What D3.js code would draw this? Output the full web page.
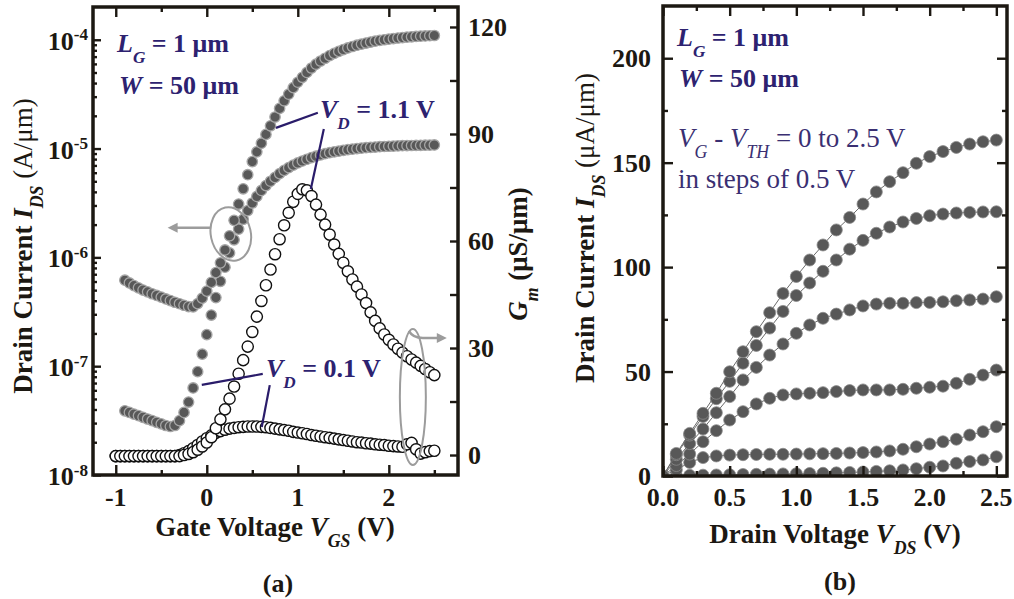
<!DOCTYPE html>
<html>
<head>
<meta charset="utf-8">
<script src="https://cdn.jsdelivr.net/npm/d3@7"></script>
<style>
  html, body { margin: 0; padding: 0; background: #fff; }
  svg { display: block; }
</style>
</head>
<body>
<svg id="chart" width="1014" height="599"></svg>
<script>
// ---------------- (a) transfer characteristics ----------------
// gate voltage grids (V)
const gateVoltageGm = [-1.00,-0.95,-0.90,-0.85,-0.80,-0.75,-0.70,-0.65,-0.60,-0.55,-0.50,-0.45,-0.40,-0.35,-0.30,-0.25,-0.20,-0.15,-0.10,-0.05,
  0.00,0.05,0.10,0.15,0.20,0.25,0.30,0.35,0.40,0.45,0.50,0.55,0.60,0.65,0.70,0.75,0.80,0.85,0.90,0.95,
  1.00,1.05,1.10,1.15,1.20,1.25,1.30,1.35,1.40,1.45,1.50,1.55,1.60,1.65,1.70,1.75,1.80,1.85,1.90,1.95,
  2.00,2.05,2.10,2.15,2.20,2.25,2.30,2.35,2.40,2.45,2.50];
const gateVoltageIds = [-0.90,-0.85,-0.80,-0.75,-0.70,-0.65,-0.60,-0.55,-0.50,-0.45,-0.40,-0.35,-0.30,-0.25,-0.20,-0.15,-0.10,-0.05,
  0.00,0.05,0.10,0.15,0.20,0.25,0.30,0.35,0.40,0.45,0.50,0.55,0.60,0.65,0.70,0.75,0.80,0.85,0.90,0.95,
  1.00,1.05,1.10,1.15,1.20,1.25,1.30,1.35,1.40,1.45,1.50,1.55,1.60,1.65,1.70,1.75,1.80,1.85,1.90,1.95,
  2.00,2.05,2.10,2.15,2.20,2.25,2.30,2.35,2.40,2.45,2.50];

// drain current I_DS (A/um)
const idsVd11 = [6.17e-7,5.82e-7,5.50e-7,5.25e-7,5.01e-7,4.82e-7,4.63e-7,4.47e-7,4.31e-7,4.15e-7,4.01e-7,3.87e-7,3.75e-7,3.63e-7,3.53e-7,3.51e-7,3.76e-7,4.22e-7,
  4.90e-7,5.89e-7,7.24e-7,8.91e-7,1.17e-6,1.58e-6,2.19e-6,3.09e-6,4.27e-6,5.75e-6,
  7.59e-6,9.33e-6,1.12e-5,1.35e-5,1.62e-5,1.95e-5,2.34e-5,2.75e-5,3.16e-5,3.63e-5,
  4.07e-5,4.52e-5,5.01e-5,5.50e-5,5.96e-5,6.38e-5,6.76e-5,7.16e-5,7.50e-5,7.82e-5,
  8.13e-5,8.41e-5,8.67e-5,8.91e-5,9.12e-5,9.33e-5,9.53e-5,9.71e-5,9.86e-5,1.000e-4,
  1.014e-4,1.026e-4,1.038e-4,1.047e-4,1.057e-4,1.064e-4,1.072e-4,1.079e-4,1.084e-4,1.089e-4,
  1.094e-4];
const idsVd01 = [3.89e-8,3.76e-8,3.63e-8,3.51e-8,3.39e-8,3.27e-8,3.16e-8,3.05e-8,2.95e-8,2.85e-8,2.79e-8,2.85e-8,3.16e-8,3.76e-8,4.68e-8,6.31e-8,8.91e-8,1.29e-7,
  1.95e-7,2.95e-7,4.27e-7,6.03e-7,8.13e-7,1.10e-6,1.45e-6,1.82e-6,2.24e-6,2.69e-6,
  3.16e-6,3.63e-6,4.12e-6,4.57e-6,5.01e-6,5.43e-6,5.89e-6,6.31e-6,6.68e-6,7.05e-6,
  7.38e-6,7.69e-6,7.98e-6,8.26e-6,8.51e-6,8.75e-6,8.97e-6,9.16e-6,9.33e-6,9.48e-6,
  9.64e-6,9.77e-6,9.89e-6,1.000e-5,1.009e-5,1.019e-5,1.026e-5,1.033e-5,1.040e-5,1.045e-5,
  1.050e-5,1.054e-5,1.059e-5,1.062e-5,1.064e-5,1.067e-5,1.069e-5,1.072e-5,1.074e-5,1.076e-5,
  1.079e-5];

// transconductance G_m (uS/um)
const gmVd11 = [-0.3,-0.3,-0.3,-0.3,-0.3,-0.3,-0.3,-0.3,-0.3,-0.3,-0.3,-0.3,-0.3,-0.3,-0.3,
  0.0,0.3,0.8,1.5,2.4,
  3.5,5.0,7.5,10.0,12.8,15.8,19.2,22.8,26.6,30.4,
  34.5,38.8,43.2,47.6,52.0,56.3,60.5,64.4,67.9,71.0,
  73.2,74.5,74.2,72.6,70.2,67.4,64.6,61.8,59.0,56.4,
  53.9,51.5,49.2,47.2,45.0,42.6,40.0,37.6,35.5,33.8,
  32.3,31.0,29.8,28.7,27.7,26.8,25.9,25.0,24.1,23.2,
  22.4];
const gmVd01 = [-0.3,-0.3,-0.3,-0.3,-0.3,-0.3,-0.3,-0.3,-0.3,-0.3,-0.3,-0.3,-0.3,-0.3,
  0.0,0.5,1.1,1.9,2.8,3.8,
  4.7,5.5,6.2,6.7,7.1,7.4,7.6,7.8,7.9,8.0,
  8.0,8.0,7.9,7.8,7.6,7.4,7.2,7.0,6.8,6.5,
  6.3,6.1,5.9,5.6,5.4,5.2,5.0,4.8,4.6,4.4,
  4.2,4.0,3.8,3.6,3.5,3.3,3.2,3.0,2.9,2.8,
  2.6,2.5,2.4,2.3,3.0,3.4,1.6,0.4,0.8,1.1,
  1.2];

// axis ticks for (a)
const gateTicks = [-1, 0, 1, 2];
const gateMinorTicks = [-0.5, 0.5, 1.5, 2.5];
const decadeTicks = [1e-8, 1e-7, 1e-6, 1e-5, 1e-4];
const decadeExponents = ["-8", "-7", "-6", "-5", "-4"];
const gmTicks = [0, 30, 60, 90, 120];
const gmMinorTicks = [15, 45, 75, 105];

// ---------------- (b) output characteristics ----------------
const drainVoltage = [0.0,0.1,0.2,0.3,0.4,0.5,0.6,0.7,0.8,0.9,1.0,1.1,1.2,1.3,1.4,1.5,1.6,1.7,1.8,1.9,2.0,2.1,2.2,2.3,2.4,2.5];
// I_DS (uA/um) for V_G - V_TH = 0, 0.5, 1.0, 1.5, 2.0, 2.5 V
const idsOv00 = [0,0.1,0.3,0.4,0.5,0.6,0.7,0.8,0.9,1.0,1.1,1.2,1.3,1.5,1.7,1.9,2.2,2.5,2.9,3.5,4.2,4.8,6.1,6.9,7.7,9.2];
const idsOv05 = [0,3.0,6.5,8.8,9.6,10.0,10.2,10.3,10.4,10.4,10.5,10.6,10.7,10.8,11.0,11.2,11.5,12.0,12.8,14.0,15.3,16.4,17.6,19.6,21.2,23.6];
const idsOv10 = [0,5.0,10.5,16.4,21.7,26.8,30.8,34.5,37.2,38.8,39.3,39.6,39.9,40.4,40.9,41.2,41.2,41.2,41.5,42.0,42.5,43.0,44.4,46.3,48.3,50.7];
const idsOv15 = [0,8.0,15.5,22.5,30.3,38.0,46.0,52.0,57.9,63.2,68.3,72.3,75.5,77.5,79.5,81.4,82.3,82.7,82.7,83.0,83.1,83.4,83.9,84.3,84.7,85.8];
const idsOv20 = [0,10.2,19.6,28.5,37.0,45.3,54.0,62.5,70.8,78.8,86.4,92.4,98.0,103.4,108.6,112.8,116.2,119.2,121.6,123.3,124.6,125.4,125.9,126.2,126.4,126.5];
const idsOv25 = [0,10.8,20.4,30.0,39.6,49.9,59.5,69.1,78.2,87.4,95.5,103.4,110.6,117.8,123.8,130.2,136.0,140.9,145.2,149.7,152.9,155.3,157.3,158.9,160.0,160.8];
const outputCurves = [idsOv00, idsOv05, idsOv10, idsOv15, idsOv20, idsOv25];

const drainTicks = [0, 0.5, 1.0, 1.5, 2.0, 2.5];
const drainTickLabels = ["0.0", "0.5", "1.0", "1.5", "2.0", "2.5"];
const drainMinorTicks = [0.25, 0.75, 1.25, 1.75, 2.25];
const currentTicks = [0, 50, 100, 150, 200];
const currentMinorTicks = [25, 75, 125, 175];

// ---------------- styling ----------------
const FONT = "'Liberation Serif','Times New Roman',Times,serif";
const INK = "#1c1812";
const NOTE = "#2d2270";
const LEADER = "#2a1c6a";
const HINT = "#9c9c9c";
const DOT = "#585858";

const svg = d3.select("#chart");
svg.append("rect").attr("width", 1014).attr("height", 599).attr("fill", "#fff");

// text with italic / sub / superscript runs
function rich(parent, x, y, parts, o = {}) {
  const fs = o.size || 26;
  const t = parent.append("text")
    .attr("x", x).attr("y", y)
    .attr("font-family", FONT).attr("font-size", fs)
    .attr("font-weight", o.weight || "bold")
    .attr("fill", o.color || INK)
    .attr("text-anchor", o.anchor || "start");
  if (o.transform) t.attr("transform", o.transform);
  let cur = 0;
  parts.forEach(p => {
    const off = p.sub ? fs * 0.42 : p.sup ? -fs * 0.36 : 0;
    const s = t.append("tspan").text(p.t).attr("dy", off - cur);
    cur = off;
    if (p.sub || p.sup) s.attr("font-size", fs * 0.66);
    if (p.it) s.attr("font-style", "italic");
    if (p.w) s.attr("font-weight", p.w);
  });
  return t;
}

function tickSet(g, axisFn, scale, values, len, transform) {
  g.append("g").attr("transform", transform)
    .call(axisFn(scale).tickValues(values).tickSize(-len).tickFormat(""))
    .call(s => {
      s.select(".domain").remove();
      s.selectAll("line").attr("stroke", INK).attr("stroke-width", 2.4);
    });
}

// ================= panel (a) =================
const PA = { left: 93, right: 458, top: 7, bottom: 475 };
const xA = d3.scaleLinear().domain([-1.25, 2.76]).range([PA.left, PA.right]);
const yI = d3.scaleLog().domain([1e-8, 2e-4]).range([PA.bottom, PA.top]);
const yG = d3.scaleLinear().domain([-5.6, 125.6]).range([PA.bottom, PA.top]);

const gA = svg.append("g");
svg.append("clipPath").attr("id", "clipA").append("rect")
  .attr("x", PA.left).attr("y", PA.top).attr("width", PA.right - PA.left).attr("height", PA.bottom - PA.top);
const plotA = gA.append("g").attr("clip-path", "url(#clipA)");

function zip(xs, ys) { return xs.map((x, i) => [x, ys[i]]); }

function openDots(g, data, ys) {
  g.append("g").selectAll("circle").data(data).join("circle")
    .attr("cx", d => xA(d[0])).attr("cy", d => ys(d[1])).attr("r", 5.6)
    .attr("fill", "#fff").attr("stroke", "#111").attr("stroke-width", 1.4);
}
function filledDots(g, data, ys) {
  g.append("g").selectAll("circle").data(data).join("circle")
    .attr("cx", d => xA(d[0])).attr("cy", d => ys(d[1])).attr("r", 5.2)
    .attr("fill", DOT).attr("stroke", "#a6a6a6").attr("stroke-width", 1.3);
}

openDots(plotA, zip(gateVoltageGm, gmVd01), yG);
openDots(plotA, zip(gateVoltageGm, gmVd11), yG);
filledDots(plotA, zip(gateVoltageIds, idsVd01), yI);
filledDots(plotA, zip(gateVoltageIds, idsVd11), yI);

// ticks
tickSet(gA, d3.axisBottom, xA, gateTicks, 10, `translate(0,${PA.bottom})`);
tickSet(gA, d3.axisBottom, xA, gateMinorTicks, 5, `translate(0,${PA.bottom})`);
tickSet(gA, d3.axisTop, xA, gateTicks, 10, `translate(0,${PA.top})`);
tickSet(gA, d3.axisTop, xA, gateMinorTicks, 5, `translate(0,${PA.top})`);
const logMinor = [];
decadeTicks.forEach(d => { for (let m = 2; m <= 9; m++) if (d * m < 2e-4) logMinor.push(d * m); });
tickSet(gA, d3.axisLeft, yI, decadeTicks, 8, `translate(${PA.left},0)`);
tickSet(gA, d3.axisLeft, yI, logMinor, 4, `translate(${PA.left},0)`);
tickSet(gA, d3.axisRight, yG, gmTicks, 8, `translate(${PA.right},0)`);
tickSet(gA, d3.axisRight, yG, gmMinorTicks, 8, `translate(${PA.right},0)`);

gA.append("rect").attr("x", PA.left).attr("y", PA.top)
  .attr("width", PA.right - PA.left).attr("height", PA.bottom - PA.top)
  .attr("fill", "none").attr("stroke", INK).attr("stroke-width", 3.5);

// tick labels
gateTicks.forEach(v => rich(gA, xA(v), 506, [{ t: String(v) }], { anchor: "middle" }));
decadeTicks.forEach((v, i) => rich(gA, 88, yI(v) + 10, [{ t: "10" }, { t: decadeExponents[i], sup: true }], { anchor: "end" }));
gmTicks.forEach(v => rich(gA, 468, yG(v) + 9, [{ t: String(v) }]));

// axis titles
rich(gA, 275, 536, [{ t: "Gate Voltage " }, { t: "V", it: true }, { t: "GS", it: true, sub: true }, { t: " (V)" }], { anchor: "middle", size: 27 });
rich(gA, 0, 0, [{ t: "Drain Current " }, { t: "I", it: true }, { t: "DS", it: true, sub: true }, { t: " (A/μm)", w: "normal" }],
  { anchor: "middle", size: 27, transform: "translate(32,246) rotate(-90)" });
rich(gA, 0, 0, [{ t: "G", it: true }, { t: "m", it: true, sub: true }, { t: "  (μS/μm)" }],
  { anchor: "middle", size: 27, transform: "translate(527,254) rotate(-90)" });
rich(gA, 278, 592, [{ t: "(a)" }], { anchor: "middle", size: 26 });

// device annotations
rich(gA, 117, 52, [{ t: "L", it: true }, { t: "G", it: true, sub: true }, { t: " = 1 μm" }], { color: NOTE });
rich(gA, 119, 94, [{ t: "W", it: true }, { t: " = 50 μm" }], { color: NOTE });
rich(gA, 320, 118, [{ t: "V", it: true }, { t: "D", it: true, sub: true }, { t: " = 1.1 V" }], { color: NOTE });
rich(gA, 266, 377, [{ t: "V", it: true }, { t: "D", it: true, sub: true }, { t: " = 0.1 V" }], { color: NOTE });

// leader lines from labels to the curves they name
function leader(p0, p1) {
  gA.append("line").attr("x1", p0[0]).attr("y1", p0[1]).attr("x2", p1[0]).attr("y2", p1[1])
    .attr("stroke", LEADER).attr("stroke-width", 2.2);
}
leader([xA(1.22), yI(2.13e-5)], [xA(0.76), yI(1.55e-5)]);
leader([xA(1.286), yG(91.4)], [xA(1.143), yG(74.6)]);
leader([xA(0.615), yI(8.49e-8)], [xA(-0.055), yI(6.73e-8)]);
leader([xA(0.692), yG(19.6)], [xA(0.604), yG(7.85)]);

// axis-assignment hints: ovals with arrows
function arrowHead(tip, dir) {
  const [x, y] = tip, L = 10, Hh = 5;
  gA.append("path")
    .attr("d", `M${x},${y} L${x - dir * L},${y - Hh} L${x - dir * L},${y + Hh} Z`)
    .attr("fill", HINT);
}
{
  const cx = xA(0.264), cy = yI(1.64e-6);
  gA.append("ellipse").attr("cx", cx).attr("cy", cy).attr("rx", 20).attr("ry", 27)
    .attr("transform", `rotate(-12,${cx},${cy})`)
    .attr("fill", "none").attr("stroke", HINT).attr("stroke-width", 2);
  const ay = yI(1.87e-6), tipX = xA(-0.43);
  gA.append("line").attr("x1", cx - 20).attr("y1", ay).attr("x2", tipX + 8).attr("y2", ay)
    .attr("stroke", HINT).attr("stroke-width", 2.5);
  arrowHead([tipX, ay], -1);
}
{
  const cx = xA(2.264), cy = yG(16.3);
  gA.append("ellipse").attr("cx", cx).attr("cy", cy).attr("rx", 13).attr("ry", 68)
    .attr("fill", "none").attr("stroke", HINT).attr("stroke-width", 2);
  const ay = yG(32.8), tipX = xA(2.637);
  gA.append("path")
    .attr("d", `M${cx - 4},${cy - 66} Q${cx},${ay} ${cx + 10},${ay} L${tipX - 8},${ay}`)
    .attr("fill", "none").attr("stroke", HINT).attr("stroke-width", 2.5);
  arrowHead([tipX, ay], 1);
}

// ================= panel (b) =================
const PB = { left: 663, right: 1007, top: 6, bottom: 476 };
const xB = d3.scaleLinear().domain([0, 2.58]).range([PB.left, PB.right]);
const yB = d3.scaleLinear().domain([0, 225]).range([PB.bottom, PB.top]);

const gB = svg.append("g");
svg.append("clipPath").attr("id", "clipB").append("rect")
  .attr("x", PB.left).attr("y", PB.top).attr("width", PB.right - PB.left).attr("height", PB.bottom - PB.top);
const plotB = gB.append("g").attr("clip-path", "url(#clipB)");

const lineB = d3.line().x(d => xB(d[0])).y(d => yB(d[1]));
outputCurves.forEach(curve => {
  const data = zip(drainVoltage, curve);
  plotB.append("path").attr("d", lineB(data)).attr("fill", "none")
    .attr("stroke", "#6a6a6a").attr("stroke-width", 1);
  plotB.append("g").selectAll("circle").data(data).join("circle")
    .attr("cx", d => xB(d[0])).attr("cy", d => yB(d[1])).attr("r", 6)
    .attr("fill", DOT).attr("stroke", "#8a8a8a").attr("stroke-width", 0.8);
});

tickSet(gB, d3.axisBottom, xB, drainTicks, 10, `translate(0,${PB.bottom})`);
tickSet(gB, d3.axisBottom, xB, drainMinorTicks, 5, `translate(0,${PB.bottom})`);
tickSet(gB, d3.axisTop, xB, drainTicks, 10, `translate(0,${PB.top})`);
tickSet(gB, d3.axisTop, xB, drainMinorTicks, 5, `translate(0,${PB.top})`);
tickSet(gB, d3.axisLeft, yB, currentTicks, 10, `translate(${PB.left},0)`);
tickSet(gB, d3.axisLeft, yB, currentMinorTicks, 5, `translate(${PB.left},0)`);
tickSet(gB, d3.axisRight, yB, currentTicks, 10, `translate(${PB.right},0)`);
tickSet(gB, d3.axisRight, yB, currentMinorTicks, 5, `translate(${PB.right},0)`);

gB.append("rect").attr("x", PB.left).attr("y", PB.top)
  .attr("width", PB.right - PB.left).attr("height", PB.bottom - PB.top)
  .attr("fill", "none").attr("stroke", INK).attr("stroke-width", 3.5);

drainTicks.forEach((v, i) => rich(gB, xB(v), 506, [{ t: drainTickLabels[i] }], { anchor: "middle" }));
currentTicks.forEach(v => rich(gB, 651, yB(v) + 9, [{ t: String(v) }], { anchor: "end" }));

rich(gB, 835, 543, [{ t: "Drain Voltage " }, { t: "V", it: true }, { t: "DS", it: true, sub: true }, { t: " (V)" }], { anchor: "middle", size: 27 });
rich(gB, 0, 0, [{ t: "Drain Current " }, { t: "I", it: true }, { t: "DS", it: true, sub: true }, { t: " (μA/μm)", w: "normal" }],
  { anchor: "middle", size: 27, transform: "translate(594,228) rotate(-90)" });
rich(gB, 840, 590, [{ t: "(b)" }], { anchor: "middle", size: 26 });

rich(gB, 677, 46, [{ t: "L", it: true }, { t: "G", it: true, sub: true }, { t: " = 1 μm" }], { color: NOTE });
rich(gB, 679, 87, [{ t: "W", it: true }, { t: " = 50 μm" }], { color: NOTE });
rich(gB, 678, 147, [{ t: "V", it: true }, { t: "G", it: true, sub: true }, { t: " - " }, { t: "V", it: true }, { t: "TH", it: true, sub: true }, { t: " = 0 to 2.5 V" }],
  { color: "#3a2f72", weight: "normal", size: 27 });
rich(gB, 678, 188, [{ t: "in steps of 0.5 V" }], { color: "#3a2f72", weight: "normal", size: 27 });
</script>
</body>
</html>
